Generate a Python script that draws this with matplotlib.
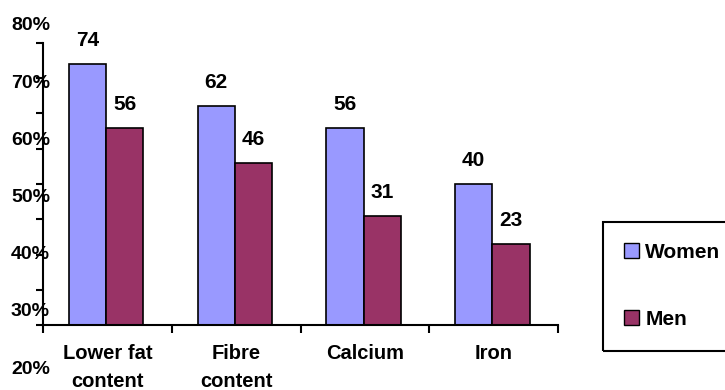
import matplotlib
matplotlib.use("Agg")
import matplotlib.pyplot as plt
from matplotlib.patches import Rectangle, Patch
import numpy as np

categories = ["Lower fat\ncontent", "Fibre\ncontent", "Calcium", "Iron"]
women = [74, 62, 56, 40]
men = [56, 46, 31, 23]
series_names = ["Women", "Men"]
ytick_labels = ["80%", "70%", "60%", "50%", "40%", "30%", "20%"]

C_WOMEN = "#9999FF"
C_MEN = "#993366"
FONT = "Liberation Sans"

plt.rcParams['font.family'] = [FONT, 'DejaVu Sans']

W, H = 725, 390
fig = plt.figure(figsize=(W / 100, H / 100), dpi=100)
ax = fig.add_axes([43 / W, 1 - 325 / H, (558 - 43) / W, (325 - 43) / H])

x = np.arange(len(categories))
bw = 0.29
ax.bar(x - bw / 2 - 0.01, women, bw, color=C_WOMEN, edgecolor="black", linewidth=1.2)
ax.bar(x + bw / 2 - 0.01, men, bw, color=C_MEN, edgecolor="black", linewidth=1.2)

for xi, v in zip(x - bw / 2 - 0.01, women):
    ax.annotate(str(v), (xi, v), xytext=(0, 13), textcoords="offset points",
                ha="center", va="baseline", fontsize=15, fontweight="bold")
for xi, v in zip(x + bw / 2 - 0.01, men):
    ax.annotate(str(v), (xi, v), xytext=(0, 13), textcoords="offset points",
                ha="center", va="baseline", fontsize=15, fontweight="bold")

ax.set_xlim(-0.5, len(categories) - 0.5)
ax.set_ylim(0, 80)
for s in ["top", "right"]:
    ax.spines[s].set_visible(False)
for s in ["left", "bottom"]:
    ax.spines[s].set_linewidth(1.5)
    ax.spines[s].set_color("black")

ax.set_xticks(x)
ax.set_xticklabels(categories, fontsize=14.5, fontweight="bold", linespacing=1.55)
ax.set_xticks(np.arange(len(categories) + 1) - 0.5, minor=True)
ax.tick_params(axis="x", which="major", length=0, pad=14)
ax.tick_params(axis="x", which="minor", length=6, width=1.5, direction="out")
for lbl in ax.get_xticklabels():
    lbl.set_verticalalignment("top")

ax.set_yticks(np.arange(0, 81, 10))
ax.set_yticklabels([])
ax.tick_params(axis="y", length=5, width=1.5, direction="out")

# misaligned percentage labels, as in the reference
ys = np.linspace(26, 369, len(ytick_labels))
for lab, yp in zip(ytick_labels, ys):
    fig.text(50 / W, 1 - yp / H, lab, ha="right", va="center",
             fontsize=14, fontweight="bold")

# legend box
fig.patches.append(Rectangle((603 / W, 1 - 351 / H), 130 / W, 129 / H,
                             transform=fig.transFigure, fill=False,
                             edgecolor="black", linewidth=1.5))
handles = [Patch(facecolor=C_WOMEN, edgecolor="black"),
           Patch(facecolor=C_MEN, edgecolor="black")]
leg = fig.legend(handles, series_names, loc="center left",
                 bbox_to_anchor=(616 / W, 1 - 286 / H), frameon=False,
                 prop={"family": FONT, "weight": "bold", "size": 15},
                 handlelength=0.7, handleheight=0.7, handletextpad=0.3,
                 labelspacing=2.3, borderaxespad=0)

fig.savefig("out.png", dpi=100)
